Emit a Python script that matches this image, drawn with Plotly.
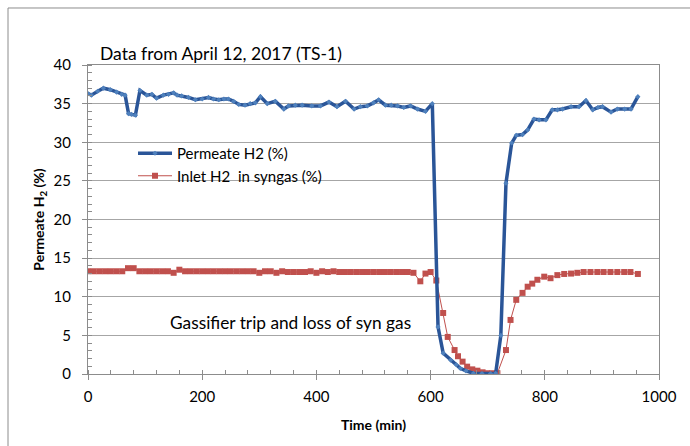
import plotly.graph_objects as go

# Permeate H2 (%) readings
permeate_time = [0, 6, 17, 27, 39, 50, 59, 65, 71, 76, 83, 91, 103, 112, 120, 132, 141, 150,
                 156, 164, 176, 188, 200, 211, 220, 229, 238, 246, 255, 264, 275, 284, 293,
                 302, 314, 328, 343, 351, 363, 375, 392, 407, 422, 436, 451, 466, 477, 489,
                 500, 509, 521, 531, 542, 553, 565, 577, 591, 603, 613, 622, 635, 645, 652,
                 662, 675, 690, 705, 714, 723, 732, 742, 750, 761, 770, 781, 790, 802, 813,
                 822, 831, 846, 860, 872, 884, 893, 901, 916, 927, 940, 951, 963]
permeate_h2 = [36.3, 36.1, 36.6, 37.0, 36.8, 36.5, 36.2, 36.1, 33.7, 33.6, 33.5, 36.7, 36.1,
               36.2, 35.7, 36.1, 36.2, 36.4, 36.1, 36.0, 35.8, 35.5, 35.6, 35.8, 35.6, 35.5,
               35.6, 35.6, 35.3, 34.9, 34.8, 35.0, 35.1, 35.9, 35.0, 35.3, 34.3, 34.7, 34.8,
               34.8, 34.7, 34.7, 35.2, 34.6, 35.3, 34.3, 34.6, 34.7, 35.1, 35.5, 34.8, 34.8,
               34.7, 34.5, 34.7, 34.3, 34.0, 35.0, 6.1, 2.7, 1.8, 1.2, 0.74, 0.4, 0.1, 0.05,
               0.05, 0.1, 5.0, 24.7, 29.9, 30.9, 31.0, 31.6, 33.0, 32.9, 32.9, 34.2, 34.2,
               34.3, 34.6, 34.6, 35.4, 34.2, 34.5, 34.6, 33.9, 34.3, 34.3, 34.3, 35.9]

# Inlet H2 in syngas (%) readings
inlet_time = [0, 10, 20, 30, 40, 50, 60, 70, 80, 90, 100, 110, 120, 130, 140, 150, 160, 170,
              180, 190, 200, 210, 220, 230, 240, 250, 260, 270, 280, 290, 300, 310, 320, 330,
              340, 350, 360, 370, 380, 390, 400, 410, 420, 430, 440, 450, 460, 470, 480, 490,
              500, 510, 520, 530, 540, 550, 560, 570, 582, 591, 600, 610, 622, 630, 642, 648,
              656, 664, 673, 682, 691, 699, 708, 717, 732, 740, 750, 761, 770, 778, 787, 799,
              810, 822, 834, 846, 857, 868, 880, 892, 903, 915, 927, 939, 950, 963]
inlet_h2 = [13.3, 13.3, 13.3, 13.3, 13.3, 13.3, 13.3, 13.7, 13.7, 13.3, 13.3, 13.3, 13.3,
            13.3, 13.3, 13.1, 13.5, 13.3, 13.3, 13.3, 13.3, 13.3, 13.3, 13.3, 13.3, 13.3,
            13.3, 13.3, 13.3, 13.3, 13.1, 13.3, 13.3, 13.1, 13.3, 13.2, 13.2, 13.2, 13.2,
            13.3, 13.1, 13.3, 13.2, 13.3, 13.2, 13.2, 13.2, 13.2, 13.2, 13.2, 13.2, 13.2,
            13.2, 13.2, 13.2, 13.2, 13.2, 13.1, 12.0, 13.0, 13.2, 12.1, 7.9, 4.8, 3.1, 2.3,
            1.6, 0.95, 0.6, 0.43, 0.22, 0.1, 0.1, 0.1, 3.1, 7.0, 9.6, 10.5, 11.3, 11.7, 12.2,
            12.6, 12.4, 12.8, 12.95, 13.0, 13.1, 13.2, 13.2, 13.2, 13.2, 13.2, 13.2, 13.2,
            13.2, 12.95]

font_family = "Lato, 'Open Sans', sans-serif"
grid_color = "#a6a6a6"
axis_color = "#8c8c8c"

fig = go.Figure()

fig.add_trace(go.Scatter(
    x=inlet_time, y=inlet_h2, name="Inlet H2 \u00a0in syngas (%)",
    mode="lines+markers",
    line=dict(color="#c0504d", width=1),
    marker=dict(symbol="square", size=6, color="#c0504d"),
))
fig.add_trace(go.Scatter(
    x=permeate_time, y=permeate_h2, name="Permeate H2 (%)",
    mode="lines+markers",
    line=dict(color="#2a5598", width=3.5),
    marker=dict(symbol="diamond", size=4, color="#4f81bd"),
))

# Chart frame (runs off the right and bottom edges)
fig.add_shape(type="rect", xref="paper", yref="paper",
              x0=-0.1401, x1=1.08, y0=-0.26, y1=1.1845,
              line=dict(color=axis_color, width=1), layer="below")

fig.add_annotation(text="Data from April 12, 2017 (TS-1)", xref="paper", yref="paper",
                   x=(98 - 88) / 571, y=(374 - 53) / 309, xanchor="left", yanchor="middle",
                   showarrow=False, font=dict(size=17.5, color="#000000", family=font_family))
fig.add_annotation(text="Gassifier trip and loss of syn gas", xref="paper", yref="paper",
                   x=(168 - 88) / 571, y=(374 - 322) / 309, xanchor="left", yanchor="middle",
                   showarrow=False, font=dict(size=17.3, color="#000000", family=font_family))

fig.update_layout(
    width=690, height=446,
    margin=dict(l=88, r=31, t=65, b=72),
    paper_bgcolor="white", plot_bgcolor="white",
    font=dict(family=font_family, size=14, color="#000000"),
    showlegend=True,
    legend=dict(x=(133 - 88) / 571, y=(374 - 137) / 309, xanchor="left", yanchor="top",
                bgcolor="rgba(0,0,0,0)", traceorder="reversed", tracegroupgap=0,
                font=dict(size=15, family=font_family), itemwidth=34),
    xaxis=dict(
        range=[0, 1000], dtick=200, tick0=0,
        showgrid=False, zeroline=False,
        showline=True, linecolor=axis_color, linewidth=1, mirror=True,
        ticks="outside", ticklen=5, tickcolor=axis_color,
        minor=dict(dtick=40, ticks="inside", ticklen=4, tickcolor=axis_color, showgrid=False),
        tickfont=dict(size=15), ticklabelstandoff=4,
        title=dict(text="<b>Time (min)</b>", font=dict(size=14), standoff=16),
    ),
    yaxis=dict(
        range=[0, 40], dtick=5, tick0=0,
        showgrid=True, gridcolor=grid_color, gridwidth=1, zeroline=False,
        showline=True, linecolor=axis_color, linewidth=1, mirror=True,
        ticks="outside", ticklen=5, tickcolor=axis_color,
        minor=dict(dtick=1, ticks="inside", ticklen=4, tickcolor=axis_color, showgrid=False),
        tickfont=dict(size=15), ticklabelstandoff=8,
        title=dict(text="<b>Permeate H<sub>2</sub> (%)</b>", font=dict(size=14), standoff=5),
    ),
)

fig.write_html("out.html")
